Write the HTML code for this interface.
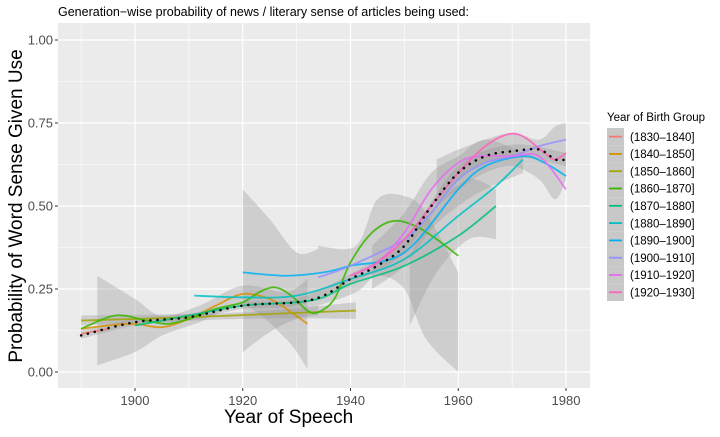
<!DOCTYPE html>
<html><head><meta charset="utf-8"><style>
body{margin:0;background:#fff;font-family:"Liberation Sans",Arial,sans-serif}
svg text{font-family:"Liberation Sans",Arial,sans-serif}
</style></head><body>
<svg id="c" width="720" height="432" viewBox="0 0 720 432" xmlns="http://www.w3.org/2000/svg">
<text x="58" y="16" font-size="12.5" fill="#000">Generation−wise probability of news / literary sense of articles being used:</text>
<rect x="58" y="23" width="532" height="365" fill="#EBEBEB"/>
<g id="grid"></g><g id="ribbons"></g><g id="lines"></g><g id="axes"></g><g id="legend"></g>
<text x="224" y="423" font-size="19" fill="#000">Year of Speech</text>
<text transform="translate(22,206) rotate(-90)" text-anchor="middle" font-size="19" fill="#000">Probability of Word Sense Given Use</text>
</svg>
<script>
const xTicks=[1900,1920,1940,1960,1980];
const yTicks=[0,0.25,0.5,0.75,1.0];
const yTickLabels=["0.00","0.25","0.50","0.75","1.00"];
const groups=["(1830–1840]","(1840–1850]","(1850–1860]","(1860–1870]","(1870–1880]","(1880–1890]","(1890–1900]","(1900–1910]","(1910–1920]","(1920–1930]"];
const colors=["#F8766D","#D89000","#A3A500","#39B600","#00BF7D","#00BFC4","#00B0F6","#9590FF","#E76BF3","#FF62BC"];
const s1830=[[1890,0.115],[1895,0.13]];
const s1840=[[1890,0.13],[1895,0.14],[1900,0.145],[1905,0.135],[1910,0.16],[1915,0.2],[1920,0.235],[1925,0.22],[1929,0.18],[1932,0.145]];
const s1850=[[1890,0.155],[1910,0.165],[1930,0.178],[1941,0.185]];
const s1860=[[1890,0.13],[1895,0.165],[1898,0.17],[1902,0.155],[1906,0.145],[1910,0.16],[1915,0.19],[1920,0.21],[1923,0.24],[1926,0.255],[1929,0.23],[1932,0.185],[1934,0.18],[1937,0.22],[1940,0.33],[1944,0.42],[1948,0.455],[1952,0.44],[1956,0.4],[1960,0.35]];
const s1870=[[1900,0.14],[1905,0.155],[1910,0.17],[1920,0.2],[1930,0.21],[1935,0.225],[1940,0.265],[1950,0.32],[1960,0.41],[1967,0.5]];
const s1880=[[1911,0.23],[1920,0.225],[1930,0.23],[1940,0.28],[1950,0.34],[1960,0.47],[1967,0.56],[1972,0.64]];
const s1890=[[1920,0.30],[1928,0.29],[1935,0.30],[1940,0.32],[1950,0.36],[1960,0.55],[1965,0.62],[1972,0.65],[1976,0.63],[1980,0.59]];
const s1900=[[1934,0.285],[1940,0.32],[1950,0.40],[1955,0.48],[1960,0.58],[1965,0.63],[1970,0.65],[1975,0.68],[1980,0.70]];
const s1910=[[1940,0.29],[1945,0.33],[1950,0.42],[1955,0.55],[1960,0.63],[1964,0.65],[1970,0.65],[1975,0.65],[1980,0.55]];
const s1920=[[1940,0.29],[1945,0.33],[1950,0.40],[1955,0.50],[1960,0.60],[1965,0.68],[1969,0.715],[1972,0.71],[1976,0.66],[1978,0.64],[1980,0.66]];
const overall=[[1890,0.11],[1900,0.15],[1910,0.165],[1920,0.2],[1930,0.21],[1935,0.23],[1940,0.28],[1945,0.32],[1950,0.38],[1955,0.50],[1960,0.60],[1965,0.65],[1970,0.665],[1975,0.67],[1978,0.64],[1980,0.64]];
const series=[s1830,s1840,s1850,s1860,s1870,s1880,s1890,s1900,s1910,s1920];
// ribbons: [year, lo, hi]
const rib1=[[1890,0.10,0.125],[1900,0.14,0.16],[1910,0.155,0.175],[1920,0.19,0.21],[1930,0.2,0.22],[1940,0.265,0.295],[1950,0.36,0.40],[1960,0.58,0.62],[1970,0.645,0.685],[1980,0.62,0.66]];
const rib2=[[1893,0.02,0.29],[1900,0.06,0.22],[1905,0.11,0.17],[1912,0.15,0.2],[1920,0.2,0.26],[1928,0.1,0.24],[1932,0.01,0.28]];
const rib3=[[1920,0.06,0.55],[1925,0.12,0.46],[1930,0.16,0.36],[1934,0.17,0.37]];
const rib4=[[1890,0.14,0.17],[1920,0.16,0.18],[1941,0.16,0.21]];
const rib5=[[1934,0.2,0.38],[1941,0.24,0.38],[1945,0.29,0.52],[1950,0.25,0.53],[1954,0.1,0.48],[1960,0.0,0.3]];
const rib6=[[1951,0.14,0.35],[1956,0.3,0.5],[1962,0.4,0.58],[1967,0.4,0.55]];
const rib7=[[1956,0.5,0.64],[1960,0.55,0.67],[1965,0.6,0.7],[1970,0.62,0.72],[1975,0.58,0.70],[1978,0.52,0.74],[1980,0.58,0.75]];
const rib8=[[1944,0.25,0.38],[1950,0.32,0.48],[1955,0.43,0.6],[1960,0.5,0.65],[1965,0.55,0.7],[1972,0.6,0.66]];
const ribbons=[rib1,rib2,rib3,rib4,rib5,rib6,rib7,rib8];

const X=y=>135+(y-1900)*(566-135)/80;
const Y=v=>372-v*332;
const NS="http://www.w3.org/2000/svg";
function mk(tag,attrs,parent){const e=document.createElementNS(NS,tag);for(const k in attrs)e.setAttribute(k,attrs[k]);parent.appendChild(e);return e;}
function smooth(pts){
  const p=pts.map(d=>[X(d[0]),Y(d[1])]);
  let s="M"+p[0][0]+","+p[0][1];
  for(let i=0;i<p.length-1;i++){
    const p0=p[i-1]||p[i],p1=p[i],p2=p[i+1],p3=p[i+2]||p2;
    const c1=[p1[0]+(p2[0]-p0[0])/6,p1[1]+(p2[1]-p0[1])/6];
    const c2=[p2[0]-(p3[0]-p1[0])/6,p2[1]-(p3[1]-p1[1])/6];
    s+=" C"+c1+" "+c2+" "+p2;
  }
  return s;
}
const grid=document.getElementById('grid');
[1890,1910,1930,1950,1970].forEach(t=>{const l=mk('line',{x1:X(t),x2:X(t),y1:23,y2:388,stroke:'#fff','stroke-width':0.6},grid);
});
[0.125,0.375,0.625,0.875].forEach(t=>{const l=mk('line',{x1:58,x2:590,y1:Y(t),y2:Y(t),stroke:'#fff','stroke-width':0.6},grid);
});
xTicks.forEach(t=>{const l=mk('line',{x1:X(t),x2:X(t),y1:23,y2:388,stroke:'#fff','stroke-width':1.2},grid);
});
yTicks.forEach(t=>{const l=mk('line',{x1:58,x2:590,y1:Y(t),y2:Y(t),stroke:'#fff','stroke-width':1.2},grid);
});
const rg=document.getElementById('ribbons');
ribbons.forEach(r=>{
  const up=r.map(d=>[d[0],d[2]]),lo=r.map(d=>[d[0],d[1]]).reverse();
  let d=smooth(up)+" L"+X(lo[0][0])+","+Y(lo[0][1])+smooth(lo).replace(/^M[^ ]*/,"")+" Z";
  const e=mk('path',{d:d,fill:'#999','fill-opacity':0.35},rg);
  
});
const lg=document.getElementById('lines');
series.forEach((s,i)=>{
  const e=mk('path',{d:smooth(s),fill:'none',stroke:colors[i],'stroke-width':1.8,'stroke-opacity':0.85},lg);
  
  
});
const ov=mk('path',{d:smooth(overall),fill:'none',stroke:'#000','stroke-width':2.5,'stroke-dasharray':'0.1 7','stroke-linecap':'round'},lg);

const ax=document.getElementById('axes');
xTicks.forEach(t=>{mk('line',{x1:X(t),x2:X(t),y1:388,y2:391,stroke:'#333'},ax);
const e=mk('text',{x:X(t),y:405,'text-anchor':'middle','font-size':13,fill:'#4D4D4D'},ax);e.textContent=t;
});
yTicks.forEach((t,i)=>{mk('line',{x1:55,x2:58,y1:Y(t),y2:Y(t),stroke:'#333'},ax);
const e=mk('text',{x:53,y:Y(t)+4.5,'text-anchor':'end','font-size':13,fill:'#4D4D4D'},ax);e.textContent=yTickLabels[i];
});
const lgd=document.getElementById('legend');
const lt=mk('text',{x:607,y:121,'font-size':11.5,fill:'#000'},lgd);lt.textContent="Year of Birth Group";

groups.forEach((g,i)=>{
  const y=128+i*17.3;
  mk('rect',{x:607,y:y,width:17,height:17.3,fill:'#C8C8C8'},lgd);
  mk('line',{x1:609,x2:622,y1:y+8.6,y2:y+8.6,stroke:colors[i],'stroke-width':1.8},lgd);
  const t=mk('text',{x:630,y:y+12.8,'font-size':11.5,fill:'#000'},lgd);t.textContent=g;
  
});
</script>
</body></html>
